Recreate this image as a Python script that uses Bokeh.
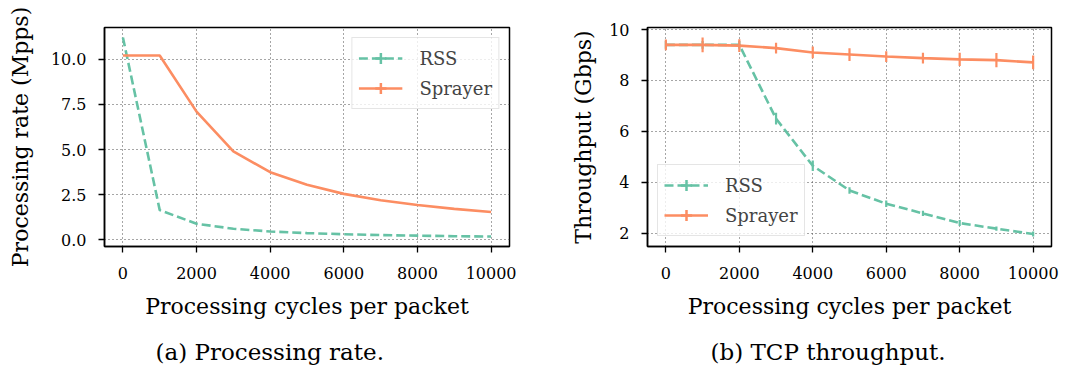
import numpy as np
from bokeh.plotting import figure
from bokeh.layouts import row
from bokeh.models import (ColumnDataSource, Legend, LegendItem, SingleIntervalTicker,
                          NumeralTickFormatter, Title)
from bokeh.embed import file_html
from bokeh.resources import INLINE

# ---------------- data ----------------
cycles = [0, 1000, 2000, 3000, 4000, 5000, 6000, 7000, 8000, 9000, 10000]

rate_rss = [11.2, 1.65, 0.90, 0.62, 0.47, 0.38, 0.32, 0.27, 0.24, 0.21, 0.19]
rate_sprayer = [10.2, 10.2, 7.1, 4.9, 3.75, 3.05, 2.55, 2.2, 1.93, 1.72, 1.55]

tput_rss = [9.4, 9.4, 9.4, 6.5, 4.65, 3.68, 3.16, 2.78, 2.4, 2.18, 1.97]
tput_rss_err = [0.15, 0.15, 0.15, 0.23, 0.21, 0.13, 0.13, 0.10, 0.12, 0.08, 0.10]
tput_sprayer = [9.4, 9.4, 9.37, 9.27, 9.1, 9.02, 8.94, 8.88, 8.83, 8.8, 8.71]
tput_sprayer_err = [0.21, 0.29, 0.25, 0.21, 0.23, 0.25, 0.21, 0.21, 0.26, 0.28, 0.27]

series_names = ["RSS", "Sprayer"]
x_label = "Processing cycles per packet"
y_label_a = "Processing rate (Mpps)"
y_label_b = "Throughput (Gbps)"
caption_a = "(a) Processing rate."
caption_b = "(b) TCP throughput."

GREEN = "#66c2a5"
ORANGE = "#fc8d62"
FONT = "DejaVu Serif"


def style(p, y_interval, y_fmt, data_renderers, ylabel_standoff):
    p.x_range.renderers = data_renderers
    p.y_range.renderers = data_renderers
    p.outline_line_color = "black"
    p.outline_line_width = 1.5
    p.xaxis.ticker = SingleIntervalTicker(interval=2000)
    p.yaxis.ticker = SingleIntervalTicker(interval=y_interval)
    p.yaxis.formatter = NumeralTickFormatter(format=y_fmt)
    for ax in p.axis:
        ax.axis_line_color = "black"
        ax.axis_line_width = 1.5
        ax.major_tick_out = 6
        ax.major_tick_in = 0
        ax.major_tick_line_width = 1.3
        ax.major_tick_line_color = "black"
        ax.minor_tick_out = 0
        ax.minor_tick_in = 0
        ax.major_label_text_font = FONT
        ax.major_label_text_font_size = "16px"
        ax.major_label_text_color = "black"
        ax.axis_label_text_font = FONT
        ax.axis_label_text_font_size = "22px"
        ax.axis_label_text_font_style = "normal"
        ax.axis_label_text_color = "black"
    p.xaxis.major_label_standoff = 14
    p.xaxis.axis_label_standoff = 12
    p.yaxis.major_label_standoff = 12
    p.yaxis.axis_label_standoff = ylabel_standoff
    for g in p.grid:
        g.grid_line_color = "#4d4d4d"
        g.grid_line_dash = "1 3"
        g.grid_line_width = 1


def make_legend(items, location):
    leg = Legend(items=items, location=location)
    leg.label_text_font = FONT
    leg.label_text_font_size = "18px"
    leg.glyph_width = 44
    leg.glyph_height = 28
    leg.label_standoff = 17
    leg.padding = 6
    leg.spacing = 2
    leg.margin = 10
    leg.border_line_color = "#cccccc"
    leg.border_line_width = 1
    leg.background_fill_alpha = 0.8
    return leg


def caption(text, offset):
    return Title(text=text, text_font=FONT, text_font_size="23px",
                 text_font_style="normal", align="left", offset=offset,
                 standoff=31, text_color="black")


def legend_tick(p, color):
    # legend-only key for the error-bar tick: a single non-finite point, never drawn in the plot
    return p.scatter(x=np.array([np.nan]), y=np.array([np.nan]), marker="cross",
                     size=14, line_color=color, line_width=2.5)


# ---------------- (a) processing rate ----------------
pa = figure(width=543, height=380, output_backend="svg", toolbar_location=None,
            min_border_left=104, min_border_right=34, min_border_top=25,
            min_border_bottom=134, x_axis_label=x_label, y_axis_label=y_label_a)
src_a = ColumnDataSource(dict(x=cycles, rss=rate_rss, spr=rate_sprayer))
la_rss = pa.line("x", "rss", source=src_a, line_color=GREEN, line_width=2.6,
                 line_dash="9 4")
la_spr = pa.line("x", "spr", source=src_a, line_color=ORANGE, line_width=2.6)
ma_rss = legend_tick(pa, GREEN)
ma_spr = legend_tick(pa, ORANGE)
style(pa, 2.5, "0.0", [la_rss, la_spr], 15)
pa.add_layout(make_legend([
    LegendItem(label=series_names[0], renderers=[la_rss, ma_rss]),
    LegendItem(label=series_names[1], renderers=[la_spr, ma_spr]),
], "top_right"))
pa.add_layout(caption(caption_a, 51), "below")

# ---------------- (b) TCP throughput ----------------
pb = figure(width=543, height=380, output_backend="svg", toolbar_location=None,
            min_border_left=104, min_border_right=35, min_border_top=27,
            min_border_bottom=134, x_axis_label=x_label, y_axis_label=y_label_b)
tr = np.array(tput_rss)
tre = np.array(tput_rss_err)
ts = np.array(tput_sprayer)
tse = np.array(tput_sprayer_err)
src_b = ColumnDataSource(dict(x=cycles, rss=tput_rss, spr=tput_sprayer,
                              rss_lo=tr - tre, rss_hi=tr + tre,
                              spr_lo=ts - tse, spr_hi=ts + tse))
lb_rss = pb.line("x", "rss", source=src_b, line_color=GREEN, line_width=2.6,
                 line_dash="9 4")
eb_rss = pb.segment(x0="x", y0="rss_lo", x1="x", y1="rss_hi", source=src_b,
                    line_color=GREEN, line_width=2.2)
lb_spr = pb.line("x", "spr", source=src_b, line_color=ORANGE, line_width=2.6)
eb_spr = pb.segment(x0="x", y0="spr_lo", x1="x", y1="spr_hi", source=src_b,
                    line_color=ORANGE, line_width=2.2)
mb_rss = legend_tick(pb, GREEN)
mb_spr = legend_tick(pb, ORANGE)
style(pb, 2, "0", [lb_rss, eb_rss, lb_spr, eb_spr], 10)
pb.add_layout(make_legend([
    LegendItem(label=series_names[0], renderers=[lb_rss, mb_rss]),
    LegendItem(label=series_names[1], renderers=[lb_spr, mb_spr]),
], "bottom_left"))
pb.add_layout(caption(caption_b, 63), "below")

layout = row(pa, pb)
open("out.html", "w").write(file_html(layout, INLINE))
